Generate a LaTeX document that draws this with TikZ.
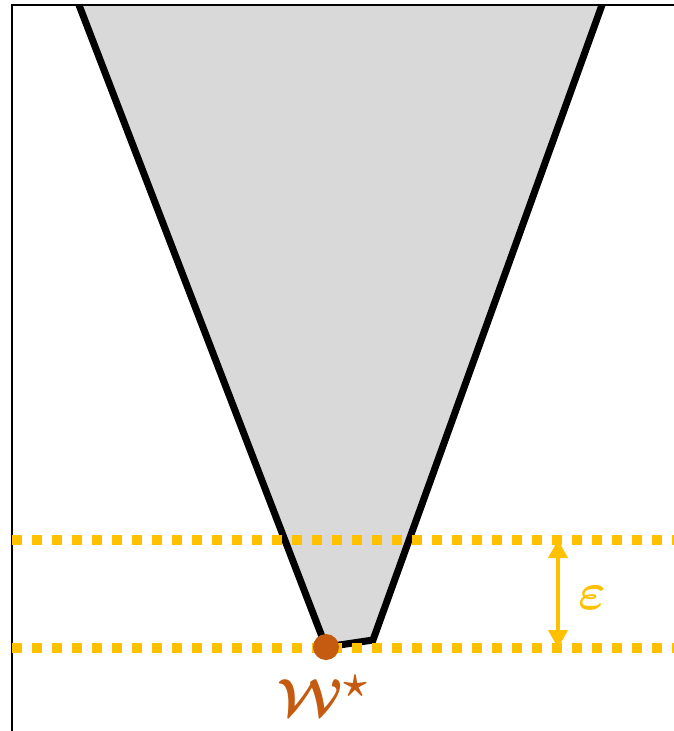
\documentclass[tikz,border=0pt]{standalone}
\usetikzlibrary{arrows.meta}
\definecolor{conegray}{HTML}{D9D9D9}
\definecolor{levelgold}{HTML}{FFC000}
\definecolor{optorange}{HTML}{C55A11}
\tikzset{
  coneedge/.style={line width=7pt, black, line join=miter},
  levelline/.style={line width=10pt, levelgold, dash pattern=on 10pt off 10pt},
  gaparrow/.style={line width=4pt, levelgold, {Triangle[length=18pt,width=19pt]}-{Triangle[length=18pt,width=19pt]}},
  biglabel/.style={font=\Huge\boldmath, scale=2.1}
}
\begin{document}
\begin{tikzpicture}[x=1pt, y=-1pt]
  \useasboundingbox (0,0) rectangle (674,731);
  % Corners of the cone
  \coordinate (TL) at (79,5);
  \coordinate (TR) at (602,5);
  \coordinate (W) at (326,647);
  \coordinate (BR) at (373,640);

  % Filled cone and its edges
  \fill[conegray] (TL) -- (W) -- (BR) -- (TR) -- cycle;
  \draw[coneedge] (TL) -- (W) -- (BR) -- (TR);

  % Frame (top and left sides)
  \draw[line width=2pt, black] (674,5) -- (12,5) -- (12,731);

  % Level lines
  \coordinate (upL) at (12,540);
  \coordinate (upR) at (674,540);
  \coordinate (loL) at (12,648);
  \coordinate (loR) at (674,648);
  \draw[levelline] (upL) -- (upR);
  \draw[levelline] (loL) -- (loR);

  % Gap between the levels
  \coordinate (gapU) at (558,540);
  \coordinate (gapL) at (558,648);
  \draw[gaparrow] (gapU) -- (gapL);
  \node[biglabel, text=levelgold] (eps) at (592,598) {$\varepsilon$};

  % Optimal point
  \fill[optorange] (W) circle (13);
  \node[biglabel, text=optorange] (wstar) at (323,696) {$\mathcal{W}^{\star}$};
\end{tikzpicture}
\end{document}
